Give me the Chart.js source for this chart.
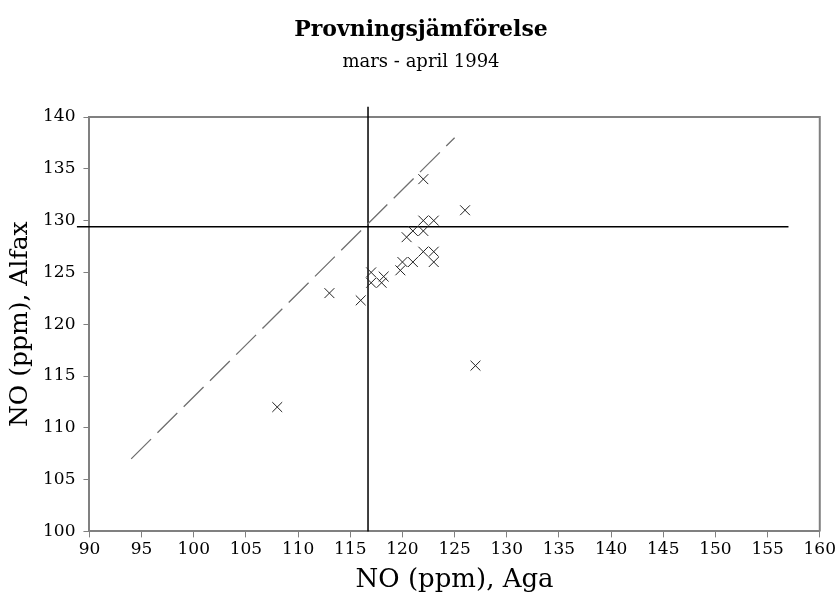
<!DOCTYPE html>
<html>
<head>
<meta charset="utf-8">
<script src="https://cdn.jsdelivr.net/npm/chart.js@4"></script>
<style>
  body { margin: 0; background: #fff; }
  #wrap { width: 838px; height: 606px; }
</style>
</head>
<body>
<div id="wrap"><canvas id="chart"></canvas></div>
<script>
// Measurements: NO (ppm), Aga vs Alfax
const agaValues   = [108, 113, 116, 117, 117, 118, 118.2, 119.8, 120, 121, 122, 123, 123, 120.4, 121, 122, 122, 123, 122, 126, 127];
const alfaxValues = [112, 123, 122.3, 125, 124, 124, 124.6, 125.2, 126, 126, 127, 127, 126, 128.4, 129, 129, 130, 130, 134, 131, 116];

// reference lines
const equalLineX = [94, 125];
const equalLineY = [107, 138];
const meanAga = 116.7;
const meanAlfax = 129.4;
const alfaxLineX = [88.8, 157];
const agaLineY = [100, 141];

const xTicks = [90, 160, 5];
const yTicks = [100, 140, 5];

const serif = "'DejaVu Serif', serif";

function toPoints(xs, ys) {
    return xs.map((x, i) => ({ x: x, y: ys[i] }));
}

// draws top and right edge of the plot frame
const framePlugin = {
    id: 'frame',
    beforeDatasetsDraw(chart) {
        const a = chart.chartArea;
        const ctx = chart.ctx;
        ctx.save();
        ctx.strokeStyle = '#808080';
        ctx.lineWidth = 2;
        ctx.beginPath();
        ctx.moveTo(a.left, a.top);
        ctx.lineTo(a.right, a.top);
        ctx.lineTo(a.right, a.bottom);
        ctx.stroke();
        ctx.restore();
    }
};

const ctx = document.getElementById('chart').getContext('2d');
new Chart(ctx, {
    type: 'scatter',
    data: {
        datasets: [
            {
                label: 'Mätningar',
                data: toPoints(agaValues, alfaxValues),
                pointStyle: 'crossRot',
                pointRadius: 7,
                borderColor: '#222',
                borderWidth: 1,
                showLine: false
            },
            {
                label: 'x = y',
                data: toPoints(equalLineX, equalLineY),
                showLine: true,
                borderColor: '#707070',
                borderWidth: 1.3,
                borderDash: [28, 9],
                pointRadius: 0
            },
            {
                label: 'Aga medel',
                data: toPoints([meanAga, meanAga], agaLineY),
                showLine: true,
                borderColor: '#000',
                borderWidth: 1.5,
                pointRadius: 0,
                clip: false
            },
            {
                label: 'Alfax medel',
                data: toPoints(alfaxLineX, [meanAlfax, meanAlfax]),
                showLine: true,
                borderColor: '#000',
                borderWidth: 1.5,
                pointRadius: 0,
                clip: false
            }
        ]
    },
    options: {
        responsive: true,
        maintainAspectRatio: false,
        animation: false,
        layout: { padding: { top: 17, left: 5, right: 1, bottom: 10 } },
        plugins: {
            legend: { display: false },
            tooltip: { enabled: false },
            title: {
                display: true,
                text: 'Provningsjämförelse',
                color: '#000',
                font: { family: serif, size: 22, weight: 'bold' },
                padding: { top: 0, bottom: 8 }
            },
            subtitle: {
                display: true,
                text: 'mars - april 1994',
                color: '#000',
                font: { family: serif, size: 18 },
                padding: { top: 0, bottom: 44 }
            }
        },
        scales: {
            x: {
                type: 'linear',
                min: xTicks[0],
                max: xTicks[1],
                ticks: { stepSize: xTicks[2], color: '#000', font: { family: serif, size: 17 }, padding: 2 },
                grid: { drawOnChartArea: false, tickLength: 6, color: '#808080' },
                border: { color: '#808080', width: 2 },
                title: { display: true, text: 'NO (ppm), Aga', color: '#000', font: { family: serif, size: 26 }, padding: { top: 3, bottom: 0 } }
            },
            y: {
                type: 'linear',
                min: yTicks[0],
                max: yTicks[1],
                ticks: { stepSize: yTicks[2], color: '#000', font: { family: serif, size: 17 }, padding: 8 },
                grid: { drawOnChartArea: false, tickLength: 6, color: '#808080' },
                border: { color: '#808080', width: 2 },
                title: { display: true, text: 'NO (ppm), Alfax', color: '#000', font: { family: serif, size: 25 }, padding: { top: 0, bottom: 0 } }
            }
        }
    },
    plugins: [framePlugin]
});
</script>
</body>
</html>
